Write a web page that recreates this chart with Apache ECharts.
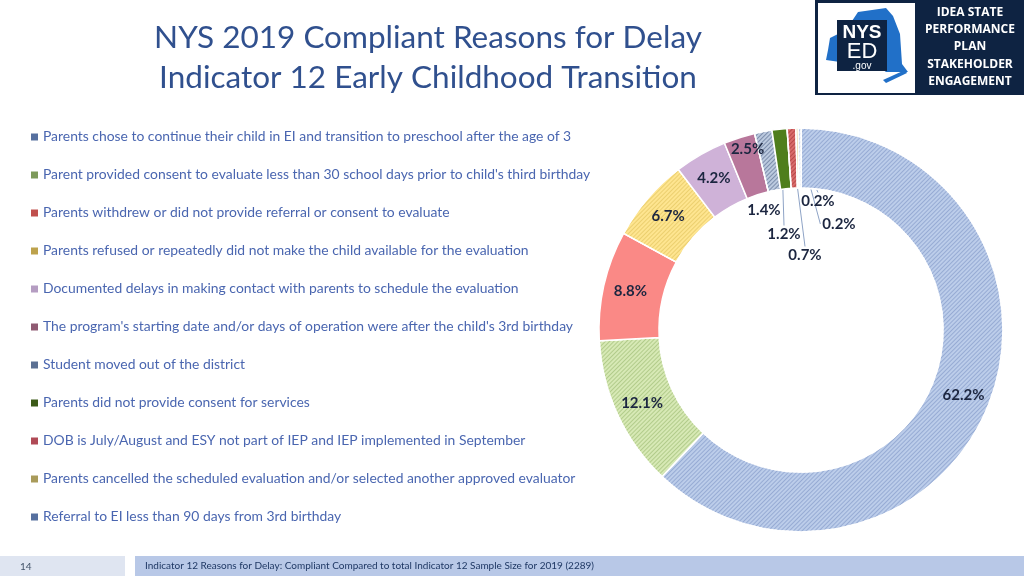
<!DOCTYPE html>
<html>
<head>
<meta charset="utf-8">
<script src="https://cdn.jsdelivr.net/npm/echarts@6/dist/echarts.min.js"></script>
<style>html,body{margin:0;padding:0;background:#fff}#c{width:1024px;height:576px}</style>
</head>
<body>
<div id="c"></div>
<script>
const categories = [
  "Parents chose to continue their child in EI and transition to preschool after the age of 3",
  "Parent provided consent to evaluate less than 30 school days prior to child's third birthday",
  "Parents withdrew or did not provide referral or consent to evaluate",
  "Parents refused or repeatedly did not make the child available for the evaluation",
  "Documented delays in making contact with parents to schedule the evaluation",
  "The program's starting date and/or days of operation were after the child's 3rd birthday",
  "Student moved out of the district",
  "Parents did not provide consent for services",
  "DOB is July/August and ESY not part of IEP and IEP implemented in September",
  "Parents cancelled the scheduled evaluation and/or selected another approved evaluator",
  "Referral to EI less than 90 days from 3rd birthday"
];
const values = [62.2, 12.1, 8.8, 6.7, 4.2, 2.5, 1.4, 1.2, 0.7, 0.2, 0.2];
const titleLines = ["NYS 2019 Compliant Reasons for Delay", "Indicator 12 Early Childhood Transition"];
const footerText = "Indicator 12 Reasons for Delay: Compliant Compared to total Indicator 12 Sample Size for 2019 (2289)";
const pageNumber = "14";
const logoLines = ["IDEA STATE", "PERFORMANCE", "PLAN", "STAKEHOLDER", "ENGAGEMENT"];

// styling
const sliceColors = ['#bccdea','#d7e9b5','#fa8986','#fee590','#cfb2d8','#b8779b','#bccadf','#4f7e1c','#d96b6b','#eadaa6','#bccdea'];
const hatchColors = ['rgba(70,100,165,0.32)','rgba(110,150,60,0.35)',null,'rgba(200,165,50,0.35)',null,null,'rgba(60,80,120,0.5)',null,'rgba(150,40,40,0.5)',null,'rgba(70,100,165,0.32)'];
const legendColors = ['#56709f','#7d9a5a','#c0504d','#bda24c','#b59dc2','#8f5a72','#5b7093','#3c5a18','#b04a56','#a99b5a','#56709f'];
// label offsets (relative to pie centre) for the thin slices placed in the hole
const holeLabel = {6:[-37,-120,false], 7:[-17,-96,true], 8:[4,-75,true], 9:[17,-129,true], 10:[38,-106,true]};

const CX = 801, CY = 330, R0 = 142, R1 = 202;

function hatch(c){
  return c ? {symbol:'rect', symbolSize:1, dashArrayX:[1,0], dashArrayY:[1,1.6], rotation:-Math.PI/4, color:c} : null;
}

const total = values.reduce((a,b)=>a+b,0);
function midAngle(i){
  let cum = 0; for (let k=0;k<i;k++) cum += values[k];
  return ((cum + values[i]/2)/total) * 2*Math.PI; // clockwise from top
}

const data = values.map((v,i)=>{
  const d = {name: categories[i], value: v, itemStyle:{color: sliceColors[i]}};
  const h = hatch(hatchColors[i]); if (h) d.itemStyle.decal = h;
  if (holeLabel[i]) {
    d.label = {position:'outside'};
    d.labelLine = {show: holeLabel[i][2], lineStyle:{color:'#8ea3c6', width:1}};
  }
  return d;
});

const chart = echarts.init(document.getElementById('c'), null, {renderer:'canvas'});
const option = {
  animation: false,
  title: {
    text: titleLines.join('\n'),
    left: 423, top: 13, textAlign: 'center',
    textStyle: {fontFamily:'Lato', fontWeight:'normal', fontSize:31.5, lineHeight:40, color:'#30508e'}
  },
  legend: {
    orient:'vertical', left: 26, top: 125,
    itemWidth: 7, itemHeight: 7, itemGap: 24,
    icon: 'rect',
    textStyle: {fontFamily:'Lato', fontSize:13.9, color:'#4a66b0'},
    data: categories.map((c,i)=>({name:c, itemStyle:{color:legendColors[i], decal:'none', borderWidth:0}}))
  },
  series: [{
    type:'pie',
    center:[CX, CY],
    radius:[R0, R1],
    startAngle: 90,
    clockwise: true,
    avoidLabelOverlap: false,
    itemStyle: {borderColor:'#ffffff', borderWidth:1.5},
    label: {
      show:true, position:'inside',
      formatter: p => p.value.toFixed(1) + '%',
      fontFamily:'Lato', fontWeight:'bold', fontSize:15, color:'#1c2640'
    },
    labelLine: {show:false, length:5, length2:5},
    labelLayout: function(p){
      const h = holeLabel[p.dataIndex];
      if (h) {
        const a = midAngle(p.dataIndex);
        const lx = CX + h[0], ly = CY + h[1];
        const rs = (R0+R1)/2 + 10;
        const sx = CX + rs*Math.sin(a), sy = CY - rs*Math.cos(a);
        const topY = ly - p.labelRect.height/2 - 1;
        let ex = lx, ey = topY;
        if (p.dataIndex === 10) { ex = lx - p.labelRect.width/2 - 2; ey = ly; }
        return {x: lx, y: ly, align:'center', verticalAlign:'middle',
                labelLinePoints: [[sx, sy],[ex, ey],[ex, ey]]};
      }
      if (p.dataIndex === 5) return {dy: -14};
      return {};
    },
    data: data
  }],
  graphic: [
    // footer
    {type:'rect', shape:{x:0, y:556, width:125, height:20}, style:{fill:'#dfe5f1'}, silent:true},
    {type:'text', x:20, y:567, style:{text:pageNumber, fontFamily:'Lato', fontSize:10, fill:'#44546a', verticalAlign:'middle'}},
    {type:'rect', shape:{x:135, y:556, width:889, height:20}, style:{fill:'#b8c8e7'}, silent:true},
    {type:'text', x:145, y:566, style:{text:footerText, fontFamily:'Lato', fontSize:10, fill:'#1f3864', verticalAlign:'middle'}},
    // logo
    {type:'rect', shape:{x:815, y:0, width:209, height:95}, style:{fill:'#0e2342'}},
    {type:'rect', shape:{x:818, y:3, width:97, height:90}, style:{fill:'#ffffff'}},
    {type:'polygon', shape:{points:[[830,38],[846,30],[858,12],[886,8],[893,16],[900,34],[902,64],[908,72],[886,72],[878,66],[858,66],[840,62],[826,60],[828,50]]}, style:{fill:'#2170c8'}},
    {type:'polygon', shape:{points:[[883,80],[905,70],[907,73],[886,83]]}, style:{fill:'#2170c8'}},
    {type:'rect', shape:{x:837, y:20, width:50, height:51}, style:{fill:'#0e2342'}},
    {type:'text', x:862, y:33, style:{text:'NYS', fontFamily:'Liberation Sans', fontWeight:'bold', fontSize:19, fill:'#ffffff', align:'center', verticalAlign:'middle'}},
    {type:'text', x:862, y:52, style:{text:'ED', fontFamily:'Liberation Sans', fontSize:22, fill:'#ffffff', align:'center', verticalAlign:'middle'}},
    {type:'text', x:862, y:66, style:{text:'.gov', fontFamily:'Liberation Sans', fontSize:10, fill:'#ffffff', align:'center', verticalAlign:'middle'}},
    {type:'text', x:970, y:47, style:{text:logoLines.join('\n'), fontFamily:'Open Sans', fontWeight:'bold', fontSize:12, lineHeight:17.3, fill:'#ffffff', align:'center', verticalAlign:'middle'}}
  ]
};
chart.setOption(option);
</script>
</body>
</html>
